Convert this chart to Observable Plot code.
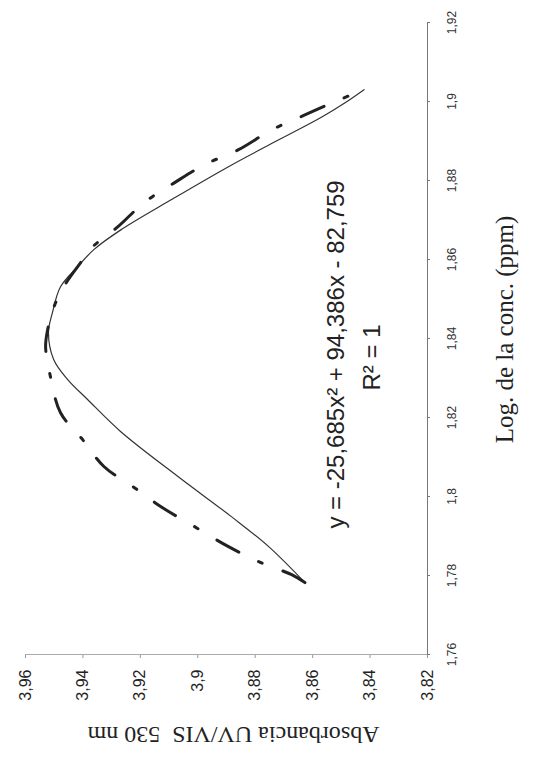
<!DOCTYPE html>
<html>
<head>
<meta charset="utf-8">
<script src="https://cdn.jsdelivr.net/npm/d3@7"></script>
<script src="https://cdn.jsdelivr.net/npm/@observablehq/plot@0.6"></script>
<style>
  html, body { margin: 0; padding: 0; background: #fff; }
  body { width: 533px; height: 772px; overflow: hidden; position: relative; }
  #rot { position: absolute; left: 0; top: 0; width: 772px; height: 533px;
         transform-origin: 0 0; transform: translate(0px, 772px) rotate(-90deg); }
</style>
</head>
<body>
<div id="rot"></div>
<script>
// Log of concentration (ppm) and absorbance
const logConcSolid = [1.7782, 1.7873, 1.7949, 1.8050, 1.8164, 1.8245, 1.8296, 1.8347, 1.8415, 1.8466, 1.8531, 1.8582, 1.8625, 1.8675, 1.8751, 1.8835, 1.8903, 1.8961, 1.8997, 1.9030];
const absSolid     = [3.8627, 3.8753, 3.8883, 3.9068, 3.9268, 3.9383, 3.9453, 3.9502, 3.9520, 3.9506, 3.9478, 3.9418, 3.9362, 3.9268, 3.9093, 3.8893, 3.8718, 3.8568, 3.8487, 3.8421];

const logConcFit = [1.7782, 1.7802, 1.7835, 1.7873, 1.7924, 1.7974, 1.8023, 1.8076, 1.8144, 1.8212, 1.8303, 1.8379, 1.8422, 1.8478, 1.8531, 1.8592, 1.8632, 1.8683, 1.8744, 1.8794, 1.8840, 1.8878, 1.8928, 1.8966, 1.9004, 1.9030];
const absFit     = [3.8627, 3.8673, 3.8788, 3.8893, 3.9012, 3.9128, 3.9222, 3.9327, 3.9401, 3.9478, 3.9513, 3.9530, 3.9523, 3.9502, 3.9467, 3.9408, 3.9366, 3.9278, 3.9187, 3.9082, 3.8977, 3.8858, 3.8743, 3.8627, 3.8508, 3.8421];

const xTicks = [1.76, 1.78, 1.80, 1.82, 1.84, 1.86, 1.88, 1.90, 1.92];
const xTickLabels = ["1,76", "1,78", "1,8", "1,82", "1,84", "1,86", "1,88", "1,9", "1,92"];
const yTicks = [3.82, 3.84, 3.86, 3.88, 3.90, 3.92, 3.94, 3.96];
const yTickLabels = ["3,82", "3,84", "3,86", "3,88", "3,9", "3,92", "3,94", "3,96"];

const xTitle = "Log. de la conc. (ppm)";
const yTitle = "Absorbancia UV/VIS  530 nm";
const equation = "y = -25,685x² + 94,386x - 82,759";
const rSquared = "R² = 1";

const solid = logConcSolid.map((x, i) => ({x, y: absSolid[i]}));
const fit = logConcFit.map((x, i) => ({x, y: absFit[i]}));
const lab = (ticks, labels) => d => labels[ticks.findIndex(t => Math.abs(t - d) < 1e-9)];

const chart = Plot.plot({
  width: 772,
  height: 533,
  marginLeft: 117,
  marginRight: 23,
  marginTop: 25,
  marginBottom: 106,
  x: {domain: [1.76, 1.92]},
  y: {domain: [3.82, 3.96]},
  style: {fontFamily: "'Liberation Sans', Arial, sans-serif", background: "#fff", color: "#222"},
  marks: [
    Plot.ruleY([3.82], {stroke: "#777", strokeWidth: 1}),
    Plot.ruleX([1.76], {stroke: "#aaa", strokeWidth: 1}),
    Plot.axisX({ticks: xTicks, tickFormat: lab(xTicks, xTickLabels), tickSize: 3, tickPadding: 17, fontSize: 12, label: null, stroke: "#777", fill: "#333"}),
    Plot.axisY({ticks: yTicks, tickFormat: lab(yTicks, yTickLabels), tickSize: 3, tickPadding: 12, fontSize: 16, label: null, stroke: "#999", fill: "#222"}),
    Plot.line(solid, {x: "x", y: "y", curve: "catmull-rom", stroke: "#333", strokeWidth: 1.2}),
    Plot.line(fit, {x: "x", y: "y", curve: "catmull-rom", stroke: "#222", strokeWidth: 3, strokeDasharray: "25,22,4,22"}),
    Plot.text([equation], {text: d => d, frameAnchor: "top-left", dx: 300, dy: 301, textAnchor: "middle", fontSize: 24, fill: "#222"}),
    Plot.text([rSquared], {text: d => d, frameAnchor: "top-left", dx: 297, dy: 337, textAnchor: "middle", fontSize: 24, fill: "#222"}),
    Plot.text([xTitle], {text: d => d, frameAnchor: "top-left", dx: 325, dy: 470, textAnchor: "middle", fontSize: 25, fontFamily: "'Liberation Serif', 'Times New Roman', serif", fill: "#222"}),
    Plot.text([yTitle], {text: d => d, frameAnchor: "top-left", dx: -90, dy: 208, rotate: -90, textAnchor: "middle", fontSize: 24, fontFamily: "'Liberation Serif', 'Times New Roman', serif", fill: "#222"})
  ]
});
document.getElementById("rot").appendChild(chart);
</script>
</body>
</html>
